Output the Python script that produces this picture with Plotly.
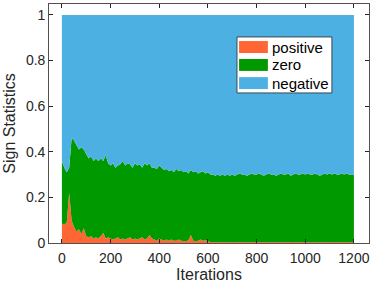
import plotly.graph_objects as go

iterations = list(range(0, 1201, 10))

positive = [0.085,0.08,0.09,0.22,0.10,0.07,0.05,0.06,0.04,0.065,
0.03,0.025,0.03,0.02,0.025,0.02,0.03,0.045,0.02,0.025,
0.02,0.015,0.02,0.025,0.015,0.02,0.015,0.02,0.025,0.015,
0.02,0.015,0.02,0.025,0.015,0.02,0.035,0.02,0.015,0.01,
0.02,0.015,0.01,0.015,0.01,0.015,0.01,0.01,0.015,0.01,
0.01,0.008,0.012,0.035,0.01,0.008,0.01,0.015,0.01,0.012,
0.008,0.004,0.004,0.003,0.004,0.003,0.004,0.003,0.004,0.003,
0.004,0.003,0.004,0.003,0.004,0.003,0.004,0.003,0.004,0.003,
0.004,0.003,0.004,0.003,0.004,0.003,0.004,0.003,0.004,0.003,
0.004,0.003,0.004,0.003,0.004,0.003,0.004,0.003,0.004,0.003,
0.004,0.003,0.004,0.003,0.004,0.003,0.004,0.003,0.004,0.003,
0.004,0.003,0.004,0.003,0.004,0.003,0.004,0.003,0.004,0.003,
0.003]

zero = [0.275,0.25,0.22,0.11,0.36,0.38,0.38,0.35,0.38,0.345,
0.36,0.345,0.35,0.34,0.345,0.34,0.34,0.315,0.365,0.325,
0.32,0.335,0.31,0.315,0.33,0.34,0.325,0.33,0.32,0.315,
0.33,0.325,0.325,0.305,0.335,0.32,0.315,0.31,0.315,0.315,
0.32,0.315,0.31,0.31,0.305,0.305,0.30,0.315,0.30,0.31,
0.30,0.307,0.293,0.285,0.30,0.307,0.295,0.295,0.305,0.293,
0.302,0.296,0.296,0.292,0.296,0.292,0.296,0.292,0.296,0.292,
0.296,0.292,0.296,0.302,0.296,0.297,0.291,0.297,0.301,0.297,
0.296,0.302,0.296,0.292,0.296,0.302,0.296,0.297,0.291,0.297,
0.301,0.297,0.296,0.302,0.291,0.297,0.301,0.297,0.296,0.302,
0.296,0.302,0.296,0.297,0.301,0.297,0.291,0.297,0.301,0.297,
0.301,0.297,0.301,0.297,0.296,0.302,0.296,0.302,0.296,0.297,
0.297]

negative = [round(1 - p - z, 4) for p, z in zip(positive, zero)]

series_names = ["positive", "zero", "negative"]
series_colors = ["#FF6633", "#009900", "#4DB0E3"]
x_ticks = [0, 200, 400, 600, 800, 1000, 1200]
y_ticks = [0, 0.2, 0.4, 0.6, 0.8, 1]

fig = go.Figure()
for name, vals, col in zip(series_names, [positive, zero, negative], series_colors):
    fig.add_trace(go.Scatter(
        x=iterations, y=vals, name=name, mode="lines",
        stackgroup="one", line=dict(width=0, color=col),
        fillcolor=col, showlegend=False,
    ))

# legend drawn as a box in paper coordinates (MATLAB-style compact legend)
leg_x0, leg_x1, leg_y0, leg_y1 = 0.5875, 0.884, 0.628, 0.862
sw_x0, sw_x1, sw_h = 0.594, 0.684, 0.025
row_y = [0.820, 0.745, 0.669]
shapes = [dict(type="rect", xref="paper", yref="paper", x0=leg_x0, x1=leg_x1,
               y0=leg_y0, y1=leg_y1, fillcolor="white",
               line=dict(color="#262626", width=0.8), layer="above")]
annotations = []
for name, col, yc in zip(series_names, series_colors, row_y):
    shapes.append(dict(type="rect", xref="paper", yref="paper", x0=sw_x0, x1=sw_x1,
                       y0=yc - sw_h, y1=yc + sw_h, fillcolor=col,
                       line=dict(width=0), layer="above"))
    annotations.append(dict(xref="paper", yref="paper", x=0.691, y=yc, text=name,
                            showarrow=False, xanchor="left", yanchor="middle",
                            font=dict(size=15, color="black")))

axis_common = dict(
    showline=True, linecolor="#262626", linewidth=0.8, mirror="ticks",
    ticks="inside", ticklen=4, tickcolor="#262626", showgrid=False, zeroline=False,
    tickfont=dict(size=14, color="#262626"), automargin=False,
)
fig.update_layout(
    width=374, height=284,
    margin=dict(l=49, r=5, t=4, b=41),
    paper_bgcolor="white", plot_bgcolor="white",
    font=dict(family="Liberation Sans, Arial, sans-serif", color="#262626"),
    showlegend=False,
    shapes=shapes, annotations=annotations,
    xaxis=dict(range=[-53, 1262], tickvals=x_ticks, ticklabelstandoff=2,
               title=dict(text="Iterations", font=dict(size=16), standoff=2),
               **axis_common),
    yaxis=dict(range=[0, 1.048], tickvals=y_ticks,
               title=dict(text="Sign Statistics", font=dict(size=16), standoff=6),
               **axis_common),
)

fig.write_html("out.html",
               config={"displayModeBar": False, "staticPlot": True},
               post_script="document.body.style.margin='0';document.body.style.overflow='hidden';")
